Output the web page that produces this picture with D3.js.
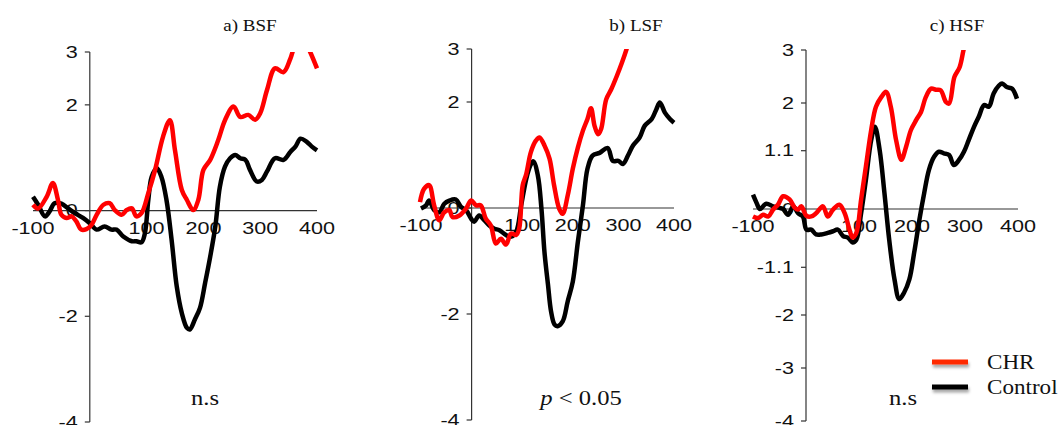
<!DOCTYPE html>
<html>
<head>
<meta charset="utf-8">
<script src="https://cdn.jsdelivr.net/npm/d3@7"></script>
<style>
  body { margin: 0; background: #fff; }
  svg { display: block; }
  .tick-label { font-family: "Liberation Sans", Arial, sans-serif; font-size: 16px; fill: #111; }
  .serif { font-family: "Liberation Serif", "Times New Roman", serif; fill: #111; }
</style>
</head>
<body>
<div id="chart"></div>
<script>
// ERP waveforms, [time ms, amplitude]
const bsfChr = [[-100,0.11],[-91,0.04],[-76,0.26],[-65,0.52],[-56,0.2],[-50,-0.08],[-41,-0.14],[-32,-0.11],[-24,-0.2],[-15,-0.36],[-6,-0.35],[3,-0.27],[12,-0.08],[24,0.11],[35,0.14],[44,0.01],[56,-0.08],[65,0.01],[74,0.04],[82,-0.11],[91,-0.05],[103,0.33],[115,0.77],[129,1.4],[141,1.71],[150,1.14],[162,0.39],[171,0.2],[182,0.01],[191,0.2],[200,0.77],[212,0.96],[226,1.33],[238,1.71],[253,1.97],[265,1.77],[279,1.81],[291,1.72],[300,1.84],[312,2.28],[326,2.69],[341,2.62],[353,2.87],[362,3.15],[374,3.3],[388,3.0],[400,2.69]];
const bsfControl = [[-100,0.26],[-91,0.11],[-79,-0.11],[-71,-0.02],[-62,0.14],[-50,0.13],[-38,0.04],[-26,-0.05],[-12,-0.14],[0,-0.24],[12,-0.36],[26,-0.3],[38,-0.36],[47,-0.36],[59,-0.49],[74,-0.58],[82,-0.58],[91,-0.6],[97,-0.43],[103,0.2],[109,0.64],[118,0.8],[126,0.64],[135,0.2],[144,-0.55],[153,-1.43],[162,-1.94],[171,-2.22],[176,-2.25],[185,-2.06],[194,-1.84],[203,-1.37],[212,-0.87],[221,-0.3],[229,0.45],[238,0.83],[247,0.99],[256,1.05],[265,0.99],[274,0.96],[282,0.77],[294,0.55],[303,0.58],[312,0.74],[326,0.99],[341,0.96],[353,1.11],[362,1.21],[371,1.36],[382,1.3],[391,1.21],[400,1.14]];

const lsfChr = [[-102,0.11],[-94,0.36],[-84,0.43],[-74,0.05],[-64,-0.23],[-54,-0.08],[-44,-0.04],[-38,-0.17],[-24,-0.14],[-11,-0.01],[-1,0.14],[9,0.05],[18,0.05],[28,-0.2],[38,-0.33],[48,-0.67],[58,-0.58],[68,-0.69],[78,-0.48],[88,-0.51],[94,-0.39],[101,0.43],[108,0.64],[117,1.05],[127,1.27],[134,1.33],[144,1.18],[154,0.93],[163,0.43],[173,-0.01],[180,-0.11],[190,0.24],[200,0.74],[210,1.14],[220,1.46],[229,1.68],[236,1.88],[243,1.55],[250,1.39],[256,1.49],[266,2.05],[276,2.24],[287,2.49],[297,2.74],[306,2.99],[314,3.25]];
const lsfControl = [[-100,-0.01],[-90,0.05],[-84,0.14],[-74,-0.04],[-64,-0.08],[-54,0.08],[-44,0.14],[-31,0.16],[-21,0.02],[-11,-0.04],[-1,-0.2],[5,-0.26],[15,-0.14],[25,-0.23],[35,-0.33],[45,-0.39],[55,-0.42],[68,-0.51],[78,-0.54],[88,-0.45],[98,0.05],[108,0.55],[116,0.8],[122,0.88],[131,0.61],[138,-0.01],[144,-0.83],[151,-1.45],[157,-1.95],[164,-2.2],[170,-2.23],[180,-2.14],[190,-1.76],[200,-1.39],[210,-0.64],[220,0.05],[229,0.74],[239,0.99],[253,1.04],[269,1.13],[279,0.89],[290,0.89],[299,0.83],[309,0.99],[319,1.18],[332,1.33],[342,1.55],[356,1.68],[365,1.86],[372,1.99],[382,1.8],[392,1.68],[400,1.61]];

const hsfChr = [[-100,-0.14],[-90,-0.17],[-81,-0.11],[-71,-0.14],[-62,-0.01],[-53,0.08],[-43,0.24],[-31,0.18],[-21,0.02],[-15,-0.01],[-9,0.05],[1,-0.13],[10,-0.14],[19,-0.08],[32,0.05],[41,-0.14],[51,-0.01],[63,0.08],[73,-0.08],[82,-0.39],[88,-0.54],[95,-0.45],[104,0.18],[113,0.8],[123,1.49],[132,1.93],[142,2.11],[151,2.21],[160,1.93],[170,1.3],[180,0.93],[189,1.18],[198,1.49],[208,1.68],[217,1.83],[226,2.11],[236,2.27],[245,2.25],[254,2.24],[264,2.02],[270,1.99],[280,2.49],[290,2.68],[297,2.99],[304,3.3]];
const hsfControl = [[-100,0.27],[-93,0.11],[-87,0],[-75,0.1],[-62,0.05],[-50,0.02],[-43,0],[-34,-0.11],[-24,0.05],[-15,-0.08],[-6,-0.14],[1,-0.39],[10,-0.39],[19,-0.48],[29,-0.48],[41,-0.45],[51,-0.42],[60,-0.39],[70,-0.51],[79,-0.54],[88,-0.63],[95,-0.58],[104,-0.08],[113,0.55],[123,1.3],[130,1.55],[139,1.11],[148,0.3],[157,-0.58],[167,-1.33],[176,-1.7],[185,-1.58],[195,-1.33],[204,-0.83],[214,-0.2],[223,0.3],[232,0.74],[242,0.99],[251,1.08],[260,1.05],[270,1.02],[279,0.83],[289,0.93],[298,1.08],[307,1.3],[317,1.55],[326,1.74],[336,1.96],[345,1.93],[354,2.18],[364,2.33],[370,2.37],[379,2.3],[389,2.27],[398,2.08]];

const xTickValues = [-100, 100, 200, 300, 400];
const yTicksAB = [3, 2, 0, -2, -4];
const yTicksC = [3, 2, 1.1, 0, -1.1, -2, -3, -4];
const panelTitles = ['a) BSF', 'b) LSF', 'c) HSF'];
const panelNotes = ['n.s', 'p < 0.05', 'n.s'];
const legendLabels = ['CHR', 'Control'];

const width = 1060;
const height = 425;
const CHR_RED = '#ff0000';
const LEGEND_RED = '#ff2a00';

// pixel layout for each panel (left/right of x range, top/bottom of y range)
const panels = [
  {chr: bsfChr, control: bsfControl, yTicks: yTicksAB, left: 33, right: 317, top: 52, bottom: 422, titleX: 250, noteX: 205},
  {chr: lsfChr, control: lsfControl, yTicks: yTicksAB, left: 421, right: 674, top: 49, bottom: 420, titleX: 636, noteX: 581},
  {chr: hsfChr, control: hsfControl, yTicks: yTicksC, left: 753, right: 1018, top: 50, bottom: 421, titleX: 957, noteX: 903},
];

const svg = d3.select('#chart')
  .append('svg')
  .attr('width', width)
  .attr('height', height);

const defs = svg.append('defs');
const shadow = defs.append('filter')
  .attr('id', 'shadow')
  .attr('filterUnits', 'userSpaceOnUse')
  .attr('x', 900).attr('y', 330)
  .attr('width', 100).attr('height', 90);
shadow.append('feDropShadow')
  .attr('dx', 1).attr('dy', 3)
  .attr('stdDeviation', 1.8)
  .attr('flood-color', '#000')
  .attr('flood-opacity', 0.35);

panels.forEach((p, i) => {
  const x = d3.scaleLinear().domain([-100, 400]).range([p.left, p.right]);
  const y = d3.scaleLinear().domain([-4, 3]).range([p.bottom, p.top]);
  const g = svg.append('g');

  // clip lines at the top of the plot (value 3)
  defs.append('clipPath')
    .attr('id', `clip${i}`)
    .append('rect')
    .attr('x', p.left - 10)
    .attr('y', y(3))
    .attr('width', p.right - p.left + 20)
    .attr('height', height);

  // y axis with ticks on the left
  g.append('line')
    .attr('x1', x(0)).attr('x2', x(0))
    .attr('y1', y(3)).attr('y2', y(-4))
    .attr('stroke', '#333').attr('stroke-width', 1.2);
  g.selectAll('.ytick')
    .data(p.yTicks)
    .enter()
    .append('line')
    .attr('x1', x(0) - 5).attr('x2', x(0))
    .attr('y1', d => y(d)).attr('y2', d => y(d))
    .attr('stroke', '#333').attr('stroke-width', 1.2);
  g.selectAll('.ylabel')
    .data(p.yTicks)
    .enter()
    .append('text')
    .attr('class', 'tick-label')
    .attr('text-anchor', 'end')
    .attr('dy', '0.36em')
    .attr('transform', d => `translate(${x(0) - 12},${y(d)}) scale(1.35,1)`)
    .text(d => d);

  // x axis along zero
  g.append('line')
    .attr('x1', x(-100)).attr('x2', x(400))
    .attr('y1', y(0)).attr('y2', y(0))
    .attr('stroke', '#333').attr('stroke-width', 1.2);
  g.selectAll('.xlabel')
    .data(xTickValues)
    .enter()
    .append('text')
    .attr('class', 'tick-label')
    .attr('text-anchor', 'middle')
    .attr('transform', d => `translate(${x(d)},${y(0) + 23}) scale(1.35,1)`)
    .text(d => d);

  const line = d3.line()
    .x(d => x(d[0]))
    .y(d => y(d[1]))
    .curve(d3.curveCatmullRom.alpha(0.5));

  const lines = g.append('g').attr('clip-path', `url(#clip${i})`);
  lines.append('path')
    .datum(p.control)
    .attr('d', line)
    .attr('fill', 'none')
    .attr('stroke', '#000')
    .attr('stroke-width', 4.5)
    .attr('stroke-linejoin', 'round');
  lines.append('path')
    .datum(p.chr)
    .attr('d', line)
    .attr('fill', 'none')
    .attr('stroke', CHR_RED)
    .attr('stroke-width', 4.5)
    .attr('stroke-linejoin', 'round');

  // panel title
  g.append('text')
    .attr('class', 'serif')
    .attr('text-anchor', 'middle')
    .attr('font-size', 17)
    .attr('transform', `translate(${p.titleX},31) scale(1.12,1)`)
    .text(panelTitles[i]);

  // significance note
  const note = g.append('text')
    .attr('class', 'serif')
    .attr('text-anchor', 'middle')
    .attr('font-size', 22)
    .attr('transform', `translate(${p.noteX},405) scale(1.12,1)`);
  if (panelNotes[i].startsWith('p')) {
    note.append('tspan').attr('font-style', 'italic').text('p');
    note.append('tspan').text(panelNotes[i].slice(1));
  } else {
    note.text(panelNotes[i]);
  }
});

// legend
const legend = svg.append('g');
const legendColors = [LEGEND_RED, '#000'];
legendLabels.forEach((label, i) => {
  const ly = 362 + i * 25;
  legend.append('rect')
    .attr('x', 932).attr('y', ly - 2.5)
    .attr('width', 36).attr('height', 5)
    .attr('fill', legendColors[i])
    .attr('filter', 'url(#shadow)');
  legend.append('text')
    .attr('class', 'serif')
    .attr('font-size', 21)
    .attr('transform', `translate(987,${ly + 7}) scale(1.1,1)`)
    .text(label);
});
</script>
</body>
</html>
